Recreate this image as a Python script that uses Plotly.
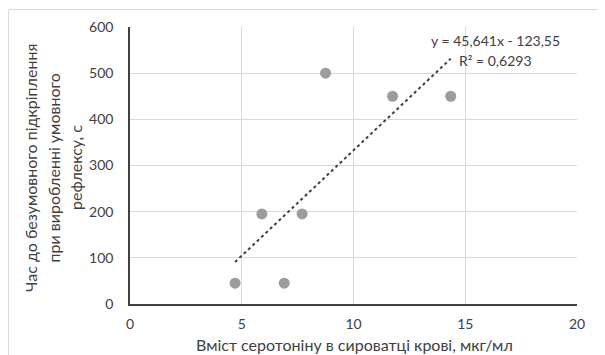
import plotly.graph_objects as go

# Data
serotonin = [4.7, 6.9, 5.9, 7.7, 8.75, 11.75, 14.35]
time_s = [45, 45, 195, 195, 500, 450, 450]
slope = 45.641
intercept = -123.55
r2_text = "R² = 0,6293"
eq_text = "y = 45,641x - 123,55"
x_title = "Вміст серотоніну в сироватці крові, мкг/мл"
y_title_lines = ["Час до безумовного підкріплення", "при виробленні умовного", "рефлексу, с"]

OFF = 8  # default page body margin
W, H = 605 - OFF, 355 - OFF
# plot area in page pixels: left 130, right 577, top 27, bottom 304
L, T = 130 - OFF, 27 - OFF
R = W - (577 - OFF)
B = H - (304 - OFF)
pw, ph = W - L - R, H - T - B

def px_x(p):
    return (p - OFF - L) / pw

def px_y(p):
    return (H - B - (p - OFF)) / ph

xmin, xmax = min(serotonin), max(serotonin)
trend_x = [xmin, xmax]
trend_y = [slope * v + intercept for v in trend_x]

font = "Lato, Calibri, Carlito, sans-serif"
txt = "#404040"

fig = go.Figure()
fig.add_trace(go.Scatter(x=trend_x, y=trend_y, mode="lines",
                         line=dict(color="#3f3f3f", width=2, dash="dot"),
                         hoverinfo="skip", showlegend=False))
fig.add_trace(go.Scatter(x=serotonin, y=time_s, mode="markers",
                         marker=dict(color="#9c9c9c", size=11),
                         showlegend=False))

annotations = [
    dict(xref="paper", yref="paper", x=px_x(495), y=px_y(40), text=eq_text,
         showarrow=False, xanchor="center", yanchor="middle",
         font=dict(size=14, color=txt)),
    dict(xref="paper", yref="paper", x=px_x(495), y=px_y(60), text=r2_text,
         showarrow=False, xanchor="center", yanchor="middle",
         font=dict(size=14, color=txt)),
    dict(xref="paper", yref="paper", x=px_x(354), y=px_y(344), text=x_title,
         showarrow=False, xanchor="center", yanchor="middle", borderpad=0,
         font=dict(size=16, color=txt)),
]
for i, line in enumerate(y_title_lines):
    annotations.append(dict(xref="paper", yref="paper", x=px_x(30 + 22.5 * i), y=px_y(168),
                            text=line, textangle=-90, showarrow=False,
                            xanchor="center", yanchor="middle",
                            font=dict(size=16, color=txt)))

fig.update_layout(
    width=W, height=H,
    margin=dict(l=L, r=R, t=T, b=B, autoexpand=False),
    paper_bgcolor="white", plot_bgcolor="white",
    font=dict(family=font, size=14, color=txt),
    xaxis=dict(range=[0, 20], dtick=5, showgrid=True, gridcolor="#d9d9d9", gridwidth=1,
               zeroline=False, showline=True, linecolor="#404040", linewidth=1.5,
               ticks="outside", ticklen=6, tickcolor="white", automargin=False,
               tickfont=dict(size=14, color=txt)),
    yaxis=dict(range=[0, 600], dtick=100, showgrid=True, gridcolor="#d9d9d9", gridwidth=1,
               zeroline=False, showline=True, linecolor="#404040", linewidth=1.5,
               ticks="outside", ticklen=12, tickcolor="white", automargin=False,
               tickfont=dict(size=14, color=txt)),
    annotations=annotations,
    shapes=[
        dict(type="rect", xref="paper", yref="paper",
             x0=px_x(8.5), x1=px_x(615), y0=px_y(365), y1=px_y(9.5),
             line=dict(color="#d9d9d9", width=1), layer="below"),
    ],
)

fig.write_html("out.html")
